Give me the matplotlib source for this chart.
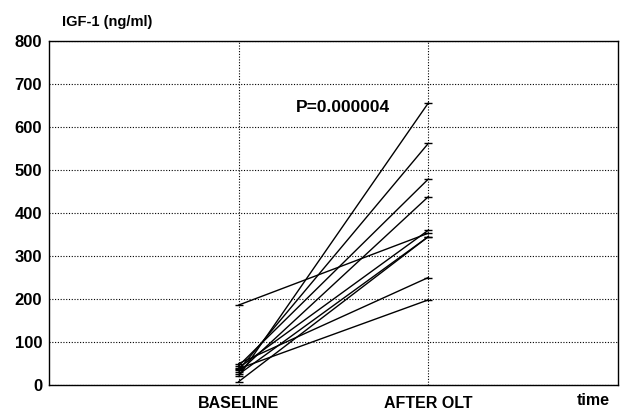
import matplotlib
matplotlib.use("Agg")
import matplotlib.pyplot as plt

# IGF-1 (ng/ml) per patient, before and after OLT
baseline = [8, 20, 35, 45, 30, 40, 25, 50, 38, 186]
after_olt = [345, 656, 562, 479, 438, 360, 345, 250, 198, 353]
categories = ["BASELINE", "AFTER OLT"]
y_ticks = [0, 100, 200, 300, 400, 500, 600, 700, 800]
p_text = "P=0.000004"

plt.rcParams["font.family"] = ["Liberation Sans", "DejaVu Sans"]
plt.rcParams["font.weight"] = "bold"

fig = plt.figure(figsize=(6.22, 4.12), dpi=100)
ax = fig.add_axes([0.079, 0.0655, 0.9145, 0.835])

x = [1, 2]
for b, a in zip(baseline, after_olt):
    ax.plot(x, [b, a], color="black", lw=1.0, marker="_", ms=6, mew=1.0)

ax.set_xlim(0, 3)
ax.set_ylim(0, 800)
ax.set_yticks(y_ticks)
ax.set_yticklabels([str(v) for v in y_ticks], fontsize=12, fontweight="bold")
ax.set_xticks(x)
ax.set_xticklabels(categories, fontsize=11.5, fontweight="bold")
ax.tick_params(axis="x", length=0, pad=8)
ax.tick_params(axis="y", length=0, pad=5)

ax.grid(True, linestyle=(0, (1, 1.5)), color="black", lw=0.8)
for s in ax.spines.values():
    s.set_color("black")
    s.set_linewidth(1.0)

ax.text(1.3, 646, p_text, fontsize=12.5, fontweight="bold", va="center", ha="left")
fig.text(0.1, 0.946, "IGF-1 (ng/ml)", fontsize=10.5, fontweight="bold", va="center", ha="left")
ax.text(0.985, -0.045, "time", transform=ax.transAxes, fontsize=11.5,
        fontweight="bold", ha="right", va="center")

fig.savefig("out.png", dpi=100)
